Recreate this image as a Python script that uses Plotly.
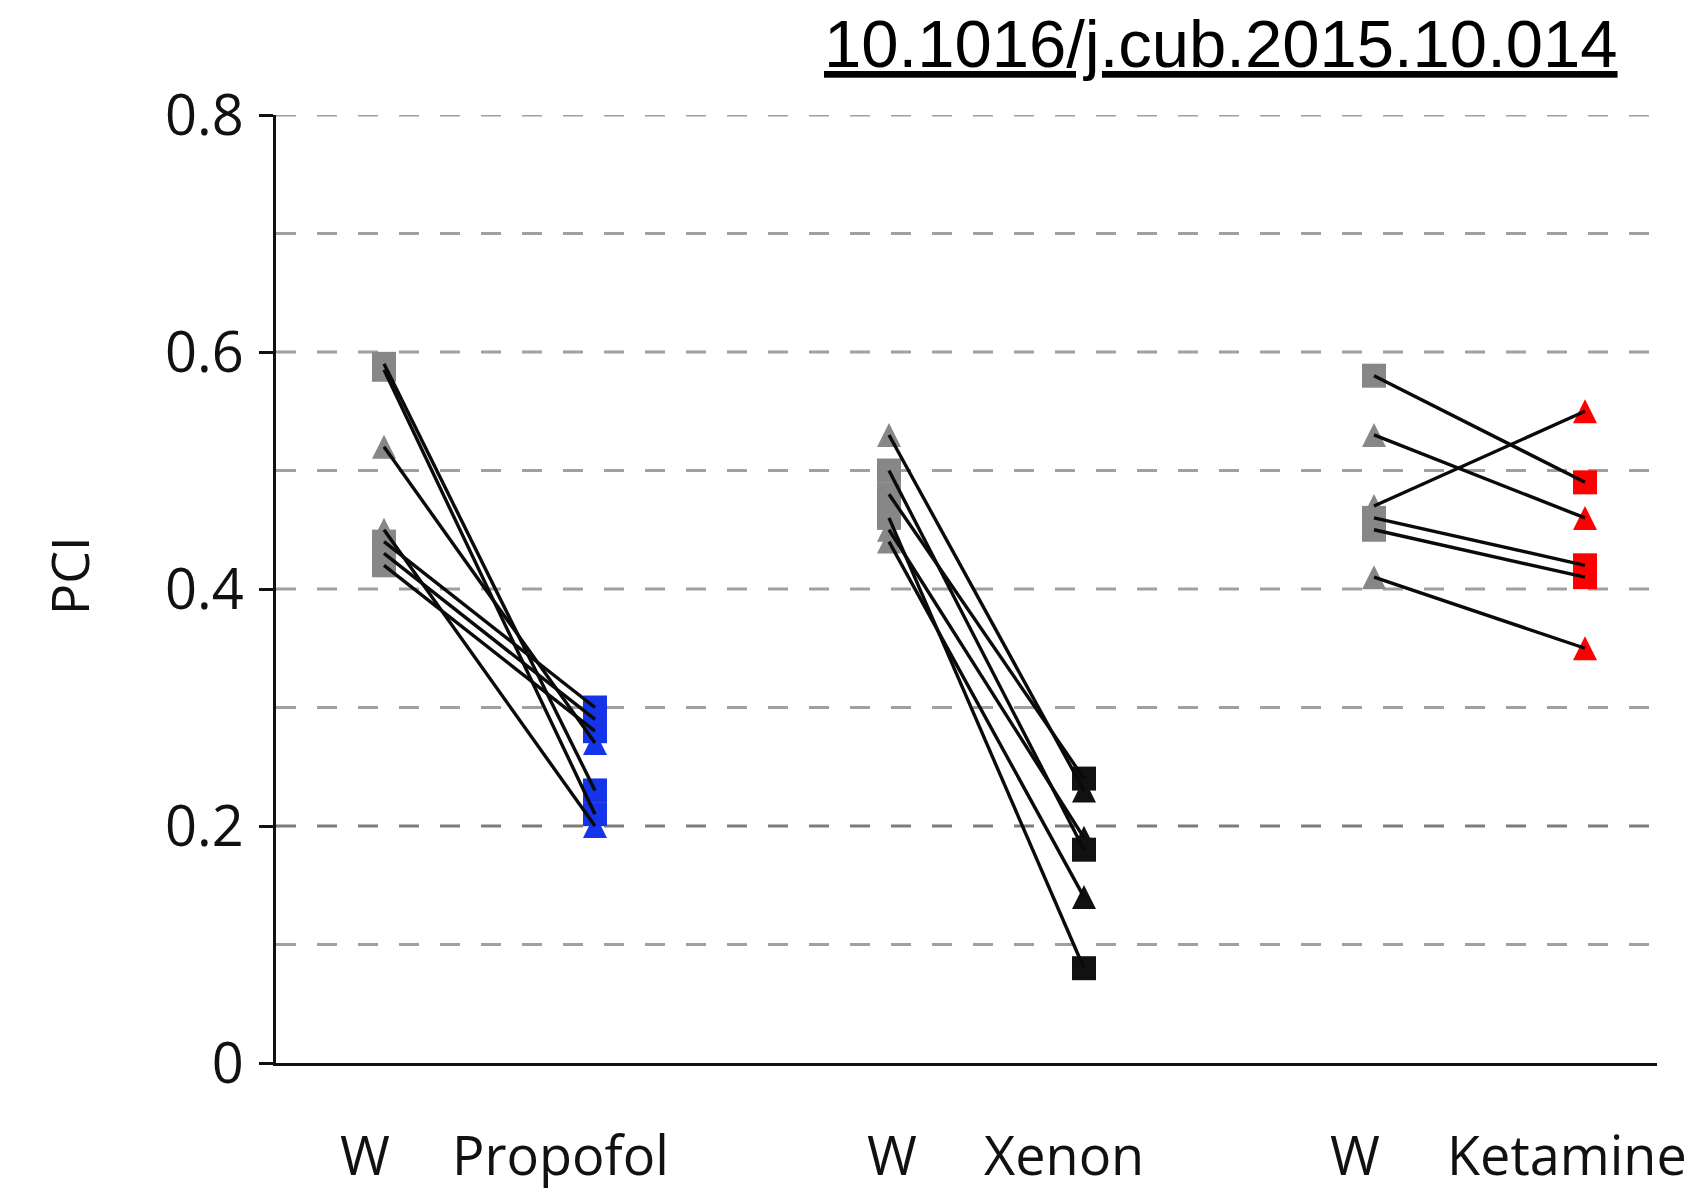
import plotly.graph_objects as go

# ---------------- data ----------------
group_names = ["Propofol", "Xenon", "Ketamine"]
wake_label = "W"

propofol_wake = [0.59, 0.585, 0.52, 0.45, 0.44, 0.43, 0.42]
propofol_drug = [0.23, 0.21, 0.27, 0.20, 0.30, 0.29, 0.28]
propofol_shape = ["s", "s", "t", "t", "s", "s", "s"]

xenon_wake = [0.53, 0.50, 0.48, 0.46, 0.45, 0.44]
xenon_drug = [0.23, 0.18, 0.24, 0.08, 0.19, 0.14]
xenon_shape = ["t", "s", "s", "s", "t", "t"]

ketamine_wake = [0.58, 0.53, 0.47, 0.46, 0.45, 0.41]
ketamine_drug = [0.49, 0.46, 0.55, 0.42, 0.41, 0.35]
ketamine_shape = ["s", "t", "t", "s", "s", "t"]

y_ticks = [0, 0.2, 0.4, 0.6, 0.8]
y_ticktext = ["0", "0.2", "0.4", "0.6", "0.8"]
grid_values = [0.1, 0.2, 0.3, 0.4, 0.5, 0.6, 0.7, 0.8]

title_text = "10.1016/j.cub.2015.10.014"
y_title = "PCI"

# ---------------- layout constants ----------------
W, H = 1707, 1192
L, R, T, B = 276, 50, 115, 129
plot_w = W - L - R
plot_h = H - T - B

# x positions (axis units = px from plot left)
wake_x = [108, 613, 1098]
drug_x = [319, 808, 1309]
wake_label_x = [89, 616, 1079]
drug_label_x = [284, 788, 1291]

drug_colors = ["#1533e8", "#111111", "#ff0000"]
wake_color = "#878787"

groups = [
    (propofol_wake, propofol_drug, propofol_shape),
    (xenon_wake, xenon_drug, xenon_shape),
    (ketamine_wake, ketamine_drug, ketamine_shape),
]

fig = go.Figure()


def add_markers(xpos, vals, shapes, color):
    sq = [v for v, s in zip(vals, shapes) if s == "s"]
    tr = [v for v, s in zip(vals, shapes) if s == "t"]
    if sq:
        fig.add_trace(go.Scatter(
            x=[xpos] * len(sq), y=sq, mode="markers",
            marker=dict(symbol="square", size=24, color=color, line=dict(width=0)),
            showlegend=False, hoverinfo="y", cliponaxis=False))
    if tr:
        # upward triangle (24 wide x 24 tall) centred on the value
        fig.add_trace(go.Scatter(
            x=[xpos] * len(tr), y=tr, mode="markers",
            marker=dict(symbol="arrow-down", angle=180, size=24, standoff=12,
                        color=color, line=dict(width=0)),
            showlegend=False, hoverinfo="y", cliponaxis=False))


# markers first (lines drawn on top, as in the reference)
for gi, (wv, dv, sh) in enumerate(groups):
    add_markers(wake_x[gi], wv, sh, wake_color)
    add_markers(drug_x[gi], dv, sh, drug_colors[gi])

for gi, (wv, dv, sh) in enumerate(groups):
    for a, b in zip(wv, dv):
        fig.add_trace(go.Scatter(
            x=[wake_x[gi], drug_x[gi]], y=[a, b], mode="lines",
            line=dict(color="#0a0a0a", width=3.4),
            showlegend=False, hoverinfo="skip", cliponaxis=False))

# dashed horizontal reference lines
shapes = []
for g in grid_values:
    shapes.append(dict(
        type="line", xref="paper", x0=0, x1=1, yref="y", y0=g, y1=g,
        line=dict(color="#7c7c7c" if abs(g - 0.2) < 1e-9 else "#a0a0a0",
                  width=2.8, dash="20px,21px"),
        layer="below"))

annotations = []
label_font = dict(family="Open Sans, Noto Sans, sans-serif", size=54, color="#111111")
for gi in range(3):
    annotations.append(dict(
        x=wake_label_x[gi], xref="x", y=0, yref="paper", yanchor="middle",
        xanchor="center", yshift=-91, text=wake_label, showarrow=False,
        font=label_font))
    annotations.append(dict(
        x=drug_label_x[gi], xref="x", y=0, yref="paper", yanchor="middle",
        xanchor="center", yshift=-91, text=group_names[gi], showarrow=False,
        font=label_font))

annotations.append(dict(
    x=(68 - L) / plot_w, xref="paper", y=(H - B - 575) / plot_h, yref="paper",
    text=y_title, textangle=-90, showarrow=False, xanchor="center",
    yanchor="middle", font=dict(family="Open Sans, Noto Sans, sans-serif",
                                size=52, color="#111111")))

annotations.append(dict(
    x=(822 - L) / plot_w, xref="paper", xanchor="left",
    y=1 + (T - 4) / plot_h, yref="paper", yanchor="top",
    text="<u>" + title_text + "</u>", showarrow=False,
    font=dict(family="Liberation Sans, Arial, sans-serif", size=67, color="#000000")))

fig.update_layout(
    width=W, height=H,
    margin=dict(l=L, r=R, t=T, b=B, pad=0),
    paper_bgcolor="white", plot_bgcolor="white",
    shapes=shapes, annotations=annotations,
    xaxis=dict(range=[0, plot_w], showgrid=False, zeroline=False,
               showticklabels=False, ticks="", showline=True,
               linecolor="#111111", linewidth=3, fixedrange=True),
    yaxis=dict(range=[0, 0.8], tickvals=y_ticks, ticktext=y_ticktext,
               ticks="outside", ticklen=14, tickwidth=3, tickcolor="#111111",
               showline=True, linecolor="#111111", linewidth=3,
               showgrid=False, zeroline=False, ticklabelstandoff=4,
               tickfont=dict(family="Open Sans, Noto Sans, sans-serif", size=56,
                             color="#111111"),
               fixedrange=True),
)

fig.write_html("out.html")
